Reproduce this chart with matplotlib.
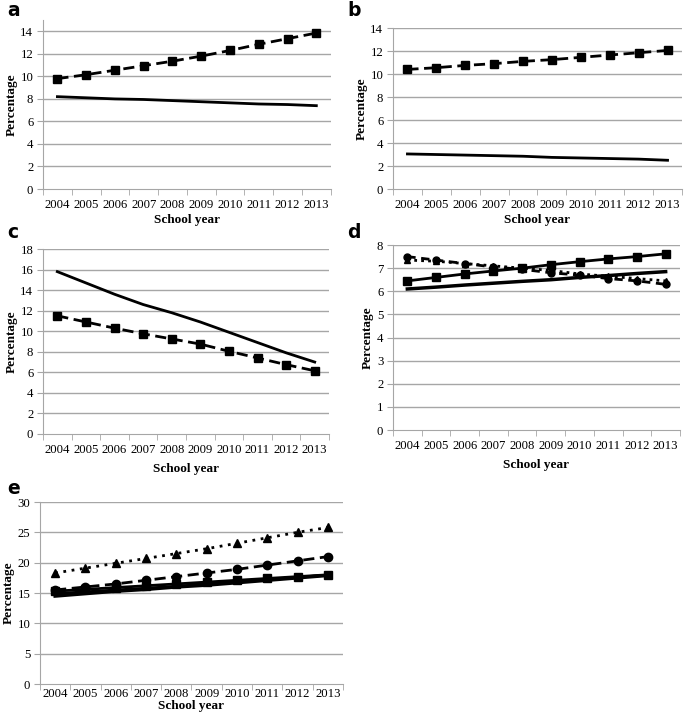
import matplotlib

matplotlib.use("Agg")
import matplotlib.pyplot as plt
import numpy as np

years = ["2004", "2005", "2006", "2007", "2008", "2009", "2010", "2011", "2012", "2013"]

# panel a
a_dash_sq = [9.8, 10.15, 10.55, 10.95, 11.35, 11.8, 12.3, 12.85, 13.35, 13.85]
a_solid = [8.2, 8.1, 8.0, 7.95, 7.85, 7.75, 7.65, 7.55, 7.5, 7.4]
# panel b
b_dash_sq = [10.4, 10.55, 10.75, 10.9, 11.1, 11.25, 11.45, 11.65, 11.85, 12.05]
b_solid = [3.05, 3.0, 2.95, 2.9, 2.85, 2.75, 2.7, 2.65, 2.6, 2.5]
# panel c
c_solid = [15.8, 14.7, 13.6, 12.6, 11.8, 10.9, 9.9, 8.9, 7.9, 7.0]
c_dash_sq = [11.5, 10.9, 10.3, 9.75, 9.25, 8.75, 8.05, 7.4, 6.75, 6.15]
# panel d
d_solid_sq = [6.45, 6.6, 6.75, 6.88, 7.0, 7.15, 7.28, 7.4, 7.5, 7.62]
d_solid = [6.1, 6.18, 6.27, 6.35, 6.43, 6.5, 6.6, 6.68, 6.77, 6.85]
d_dot_tri = [7.35, 7.3, 7.2, 7.1, 7.0, 6.9, 6.75, 6.65, 6.55, 6.45]
d_dash_ci = [7.5, 7.35, 7.2, 7.05, 6.95, 6.8, 6.7, 6.55, 6.45, 6.3]
# panel e
e_dot_tri = [18.3, 19.1, 19.9, 20.7, 21.5, 22.3, 23.2, 24.1, 25.0, 25.8]
e_dash_ci = [15.5, 16.0, 16.5, 17.1, 17.7, 18.3, 18.9, 19.6, 20.3, 21.0]
e_solid_sq = [15.3, 15.6, 15.9, 16.2, 16.5, 16.8, 17.1, 17.4, 17.7, 18.0]
e_solid = [14.5, 14.9, 15.3, 15.6, 16.0, 16.3, 16.7, 17.1, 17.5, 17.9]
e_solid2 = [14.9, 15.2, 15.5, 15.8, 16.1, 16.5, 16.8, 17.2, 17.6, 17.95]

SERIF = ["Liberation Serif", "DejaVu Serif"]
GRID = "#a6a6a6"

fig = plt.figure(figsize=(6.85, 7.22), dpi=100)


def setup(rect, ymax, ystep, ytop=None, xpad=7, labelpad=2):
	ax = fig.add_axes(rect)
	x = np.arange(len(years))
	ax.set_xlim(-0.5, len(years) - 0.5)
	ax.set_ylim(0, ytop if ytop else ymax)
	ax.set_yticks(np.arange(0, ymax + 0.01, ystep))
	ax.set_xticks(x)
	ax.set_xticklabels(years)
	ax.set_xticks(np.arange(-0.5, len(years)), minor=True)
	ax.tick_params(axis="x", which="major", length=0, pad=xpad)
	ax.tick_params(axis="x", which="minor", length=4, color=GRID)
	ax.tick_params(axis="y", length=4, color=GRID, pad=3)
	for lab in ax.get_xticklabels() + ax.get_yticklabels():
		lab.set_family(SERIF)
		lab.set_fontsize(9.2)
	for t in ax.get_yticks():
		if t > 0:
			ax.axhline(t, color=GRID, lw=1, zorder=0)
	for s in ("top", "right"):
		ax.spines[s].set_visible(False)
	for s in ("left", "bottom"):
		ax.spines[s].set_color(GRID)
	ax.set_ylabel("Percentage", family=SERIF, fontweight="bold", fontsize=9.5, labelpad=2)
	ax.set_xlabel("School year", family=SERIF, fontweight="bold", fontsize=9.5, labelpad=labelpad)
	return ax, x


def letter(text, xpx, ypx):
	fig.text(xpx / 685, 1 - ypx / 722, text, fontsize=13.5, fontweight="bold",
		family="DejaVu Sans", ha="left", va="center")


kw_sq = dict(color="black", lw=2, marker="s", markersize=6)

# a
ax, x = setup([0.0628, 0.7382, 0.420, 0.234], 14, 2, ytop=15)
ax.plot(x, a_dash_sq, ls=(0, (4, 2)), **kw_sq)
ax.plot(x, a_solid, color="black", lw=2)
letter("a", 7, 11)

# b
ax, x = setup([0.5737, 0.7382, 0.4219, 0.223], 14, 2)
ax.plot(x, b_dash_sq, ls=(0, (4, 2)), **kw_sq)
ax.plot(x, b_solid, color="black", lw=2)
letter("b", 347, 11)

# c
ax, x = setup([0.0628, 0.3989, 0.4175, 0.2562], 18, 2, labelpad=5)
ax.plot(x, c_solid, color="black", lw=2)
ax.plot(x, c_dash_sq, ls=(0, (4, 2)), **kw_sq)
letter("c", 7, 232)

# d
ax, x = setup([0.5737, 0.4044, 0.419, 0.2562], 8, 1, labelpad=5)
ax.plot(x, d_dash_ci, color="black", lw=2, ls=(0, (3, 2)), marker="o", markersize=5)
ax.plot(x, d_dot_tri, color="black", lw=2, ls=(0, (1, 1.5)), marker="^", markersize=5)
ax.plot(x, d_solid_sq, **kw_sq)
ax.plot(x, d_solid, color="black", lw=2.5)
letter("d", 347, 232)

# e
ax, x = setup([0.0584, 0.0526, 0.4423, 0.2521], 30, 5, xpad=3, labelpad=0)
ax.plot(x, e_dot_tri, color="black", lw=2, ls=(0, (1, 2)), marker="^", markersize=6)
ax.plot(x, e_dash_ci, color="black", lw=2, ls=(0, (4, 2)), marker="o", markersize=6)
ax.plot(x, e_solid_sq, **kw_sq)
ax.plot(x, e_solid, color="black", lw=2.5)
ax.plot(x, e_solid2, color="black", lw=2)
letter("e", 7, 488)

fig.savefig("out.png", dpi=100)
